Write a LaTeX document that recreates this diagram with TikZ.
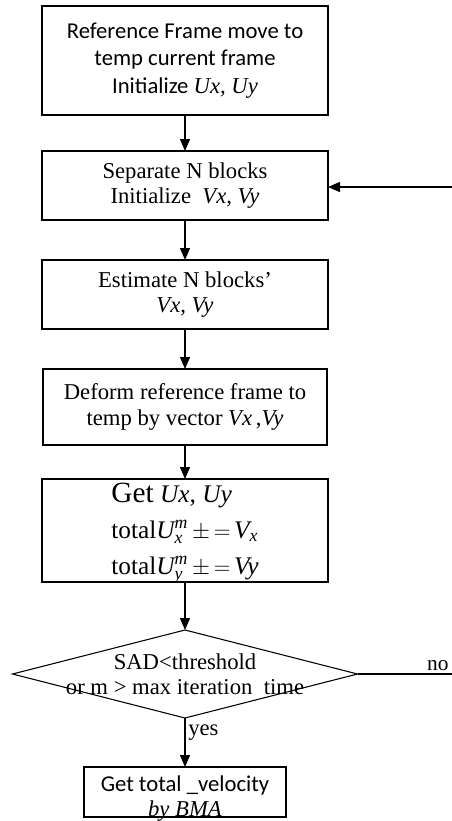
\documentclass[tikz,border=0pt]{standalone}
\usepackage{amsmath}
\usepackage{fontspec}
\setmainfont{Liberation Serif}
\newfontfamily\calfont{Carlito}
\usetikzlibrary{positioning}
\usetikzlibrary{arrows.meta}
\usetikzlibrary{shapes.geometric}

\begin{document}
\begin{tikzpicture}[x=0.75pt,y=-0.75pt,
  box/.style={draw,line width=0.8pt,align=center,inner sep=0pt,outer sep=0pt,minimum width=214.5pt},
  arr/.style={line width=1pt,-{Triangle[length=9pt,width=7.5pt]}}]

\def\boxfont{\fontsize{17}{19}\selectfont}

\useasboundingbox (0,0) rectangle (452,821);

\node[box,minimum height=81.75pt,font={\calfont\fontsize{17}{20.5}\selectfont}] (init) at (185,60.5) {Reference Frame move to\\temp current frame\\Initialize {\rmfamily\itshape Ux, Uy}};
\node[box,minimum height=51.75pt,font=\boxfont,below=27pt of init] (sep) {Separate N blocks\\Initialize \ \textit{Vx, Vy}};
\node[box,minimum height=51.75pt,font=\boxfont,below=30pt of sep] (est) {Estimate N blocks’\\\textit{Vx, Vy}};
\node[box,minimum width=213pt,minimum height=57pt,font=\boxfont,below=30pt of est] (deform) {Deform reference frame to\\temp by vector \textit{Vx}\,,\textit{Vy}};
\node[box,minimum height=77.25pt,below=25.5pt of deform,
  label={[align=left,yshift=-2pt,font={\fontsize{19}{27}\selectfont}]center:{\fontsize{22}{27}\selectfont Get} \textit{Ux, Uy}\\total$\textit{U}^{\textit{m}}_{\textit{x}}\,\mathord{\pm}\,\mathord{=}\,\textit{V}_{\textit{x}}$\\total$\textit{U}^{\textit{m}}_{\textit{y}}\,\mathord{\pm}\,\mathord{=}\,\textit{Vy}$}] (total) {};

\node[draw,diamond,line width=0.8pt,outer sep=0pt,minimum width=258.75pt,minimum height=66pt,inner sep=0pt,below=36pt of total] (check) {};
\node[font=\boxfont,align=center] (checktxt) at (check) {SAD<threshold\\or m > max iteration\ \ time};

\node[box,minimum width=151.5pt,minimum height=37.5pt,below=36.75pt of check,
  label={[align=center,yshift=-5pt,font=\boxfont]center:{\calfont Get total \_velocity}\\\textit{by BMA}}] (velo) {};

\coordinate (noend) at (452,674);
\coordinate (loopin) at (452,187);

\draw[arr] (init) -- (sep);
\draw[arr] (sep) -- (est);
\draw[arr] (est) -- (deform);
\draw[arr] (deform) -- (total);
\draw[arr] (total) -- (check);
\draw[arr] (check) -- node[right,pos=0.3,font=\boxfont,inner sep=2pt]{yes} (velo);
\draw[line width=1pt] (check.east) -- node[pos=0.85,above,font={\fontsize{16}{19}\selectfont},inner sep=2pt]{no} (check.east -| noend);
\draw[arr] (loopin) -- (loopin -| sep.east);
\end{tikzpicture}
\end{document}
